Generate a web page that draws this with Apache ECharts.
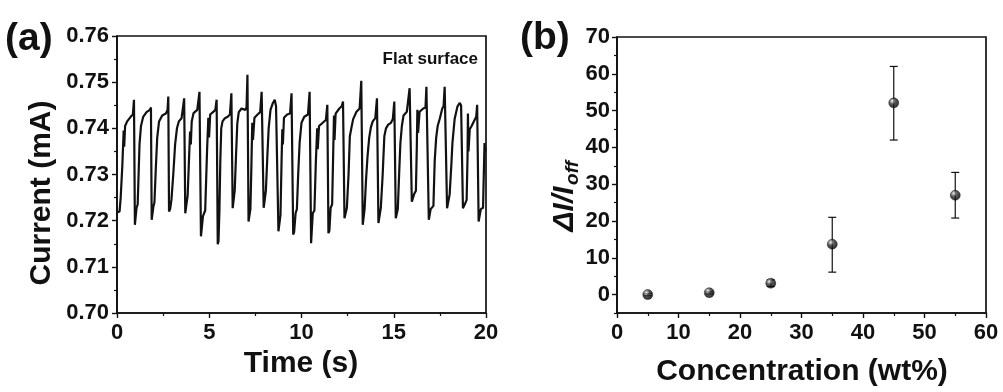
<!DOCTYPE html>
<html>
<head>
<meta charset="utf-8">
<script src="https://cdn.jsdelivr.net/npm/echarts@6/dist/echarts.min.js"></script>
<style>
html,body{margin:0;padding:0;background:#fff;}
#chart{width:1003px;height:392px;}
</style>
</head>
<body>
<div id="chart"></div>
<script>
// ---- Panel (a): current vs time, [time (s), current (mA)] ----
const currentTrace = [
[0.00,0.7218],[0.14,0.7220],[0.20,0.7250],[0.29,0.7320],[0.36,0.7395],[0.39,0.7360],[0.44,0.7405],[0.55,0.7415],[0.74,0.7425],[0.86,0.7430],[0.92,0.7462],[0.97,0.7191],
[1.02,0.7195],[1.06,0.7228],[1.12,0.7235],[1.17,0.7300],[1.22,0.7365],[1.30,0.7405],[1.42,0.7425],[1.60,0.7435],[1.78,0.7440],[1.84,0.7445],[1.88,0.7202],
[1.93,0.7205],[1.97,0.7230],[2.03,0.7240],[2.10,0.7310],[2.18,0.7380],[2.28,0.7415],[2.45,0.7428],[2.65,0.7432],[2.74,0.7440],[2.78,0.7469],[2.82,0.7220],
[2.88,0.7225],[2.95,0.7245],[3.05,0.7300],[3.15,0.7365],[3.25,0.7400],[3.35,0.7415],[3.50,0.7422],[3.58,0.7425],[3.64,0.7465],[3.70,0.7216],
[3.74,0.7218],[3.78,0.7240],[3.83,0.7255],[3.90,0.7330],[3.96,0.7393],[4.00,0.7365],[4.05,0.7415],[4.15,0.7433],[4.35,0.7440],[4.47,0.7479],[4.55,0.7166],
[4.60,0.7168],[4.66,0.7210],[4.78,0.7222],[4.88,0.7350],[4.95,0.7423],[4.99,0.7380],[5.05,0.7430],[5.20,0.7435],[5.33,0.7440],[5.40,0.7462],[5.46,0.7149],
[5.50,0.7155],[5.55,0.7220],[5.60,0.7330],[5.65,0.7400],[5.72,0.7415],[5.85,0.7422],[6.00,0.7425],[6.12,0.7430],[6.20,0.7476],[6.27,0.7227],
[6.32,0.7230],[6.38,0.7265],[6.45,0.7340],[6.52,0.7410],[6.60,0.7435],[6.75,0.7443],[6.95,0.7440],[7.02,0.7445],[7.07,0.7516],[7.13,0.7198],
[7.18,0.7202],[7.23,0.7225],[7.28,0.7310],[7.33,0.7412],[7.37,0.7375],[7.45,0.7423],[7.62,0.7430],[7.76,0.7435],[7.84,0.7479],[7.95,0.7228],
[8.00,0.7232],[8.07,0.7265],[8.15,0.7340],[8.22,0.7400],[8.32,0.7440],[8.45,0.7455],[8.55,0.7462],[8.62,0.7448],[8.68,0.7450],[8.75,0.7177],
[8.80,0.7180],[8.86,0.7212],[8.92,0.7330],[8.96,0.7398],[8.99,0.7365],[9.05,0.7423],[9.22,0.7430],[9.38,0.7432],[9.46,0.7476],[9.55,0.7170],
[9.60,0.7175],[9.68,0.7216],[9.75,0.7225],[9.82,0.7300],[9.90,0.7370],[10.00,0.7412],[10.15,0.7425],[10.35,0.7430],[10.44,0.7479],[10.52,0.7151],
[10.56,0.7155],[10.61,0.7216],[10.70,0.7222],[10.78,0.7330],[10.85,0.7400],[10.88,0.7355],[10.95,0.7405],[11.15,0.7412],[11.32,0.7418],[11.40,0.7451],[11.46,0.7173],
[11.51,0.7178],[11.58,0.7228],[11.66,0.7235],[11.72,0.7350],[11.76,0.7428],[11.79,0.7375],[11.85,0.7432],[12.05,0.7443],[12.18,0.7448],[12.25,0.7458],[12.33,0.7205],
[12.38,0.7208],[12.46,0.7228],[12.55,0.7300],[12.62,0.7383],[12.70,0.7400],[12.80,0.7420],[12.98,0.7436],[13.15,0.7443],[13.24,0.7503],[13.32,0.7191],
[13.37,0.7195],[13.42,0.7225],[13.50,0.7290],[13.58,0.7340],[13.67,0.7380],[13.76,0.7402],[13.86,0.7415],[14.00,0.7422],[14.09,0.7465],[14.17,0.7195],
[14.22,0.7198],[14.30,0.7228],[14.40,0.7300],[14.49,0.7383],[14.58,0.7400],[14.70,0.7408],[14.85,0.7412],[14.95,0.7420],[15.03,0.7458],[15.11,0.7205],
[15.16,0.7208],[15.22,0.7225],[15.30,0.7310],[15.36,0.7368],[15.44,0.7405],[15.53,0.7428],[15.71,0.7436],[15.80,0.7440],[15.86,0.7487],[15.98,0.7241],
[16.03,0.7243],[16.10,0.7257],[16.20,0.7265],[16.25,0.7360],[16.28,0.7440],[16.32,0.7390],[16.40,0.7436],[16.60,0.7443],[16.72,0.7445],[16.77,0.7490],[16.90,0.7202],
[16.95,0.7205],[17.00,0.7225],[17.15,0.7232],[17.22,0.7330],[17.30,0.7380],[17.38,0.7405],[17.50,0.7422],[17.63,0.7443],[17.70,0.7448],[17.76,0.7490],[17.89,0.7227],
[17.94,0.7230],[18.03,0.7257],[18.12,0.7320],[18.18,0.7368],[18.30,0.7420],[18.45,0.7447],[18.58,0.7455],[18.65,0.7450],[18.75,0.7227],
[18.80,0.7230],[18.87,0.7237],[18.95,0.7245],[19.00,0.7340],[19.02,0.7432],[19.05,0.7350],[19.12,0.7398],[19.22,0.7405],[19.38,0.7418],[19.47,0.7425],[19.52,0.7451],[19.60,0.7198],
[19.65,0.7200],[19.72,0.7225],[19.84,0.7228],[19.92,0.7368],[19.97,0.7350]
];

// ---- Panel (b): response vs concentration ----
const concentration = [5, 15, 25, 35, 45, 55];
const response      = [0.0, 0.5, 3.1, 13.7, 52.1, 27.0];
const errLow        = [-0.3, 0.2, 2.2, 6.1, 42.0, 20.8];
const errHigh       = [0.3, 0.8, 4.0, 21.0, 62.0, 33.2];

// tick labels
const yTicksA = [0.70, 0.71, 0.72, 0.73, 0.74, 0.75, 0.76];
const yTicksB = [0, 10, 20, 30, 40, 50, 60, 70];
const yMinorB = [-5, 5, 15, 25, 35, 45, 55, 65];

const FONT = 'Arial, "Liberation Sans", sans-serif';
const INK = '#111';

const chart = echarts.init(document.getElementById('chart'), null, {renderer: 'canvas'});

function axisCommon() {
  return {
    axisLine: {show: true, onZero: false, lineStyle: {color: INK, width: 1.7}},
    axisTick: {show: true, inside: false, length: 5, lineStyle: {color: INK, width: 1.4}},
    minorTick: {show: true, splitNumber: 2, length: 3, lineStyle: {color: INK, width: 1.2}},
    splitLine: {show: false},
    minorSplitLine: {show: false},
    axisLabel: {color: INK, fontFamily: FONT, fontWeight: 'bold', fontSize: 22}
  };
}

const scatterColor = {
  type: 'radial', x: 0.36, y: 0.32, r: 0.7,
  colorStops: [
    {offset: 0, color: '#ffffff'},
    {offset: 0.18, color: '#9a9a9a'},
    {offset: 0.45, color: '#2a2a2a'},
    {offset: 1, color: '#000'}
  ]
};

const option = {
  backgroundColor: '#fff',
  animation: false,
  grid: [
    {left: 117, right: 517, top: 36, bottom: 79, show: true, borderColor: INK, borderWidth: 1.7, backgroundColor: 'transparent'},
    {left: 617, right: 17, top: 37, bottom: 79, show: true, borderColor: INK, borderWidth: 1.7, backgroundColor: 'transparent'}
  ],
  xAxis: [
    Object.assign(axisCommon(), {
      type: 'value', gridIndex: 0, min: 0, max: 20, interval: 5,
    }),
    Object.assign(axisCommon(), {
      type: 'value', gridIndex: 1, min: 0, max: 60, interval: 10,
    })
  ],
  yAxis: [
    Object.assign(axisCommon(), {
      type: 'value', gridIndex: 0, min: 0.70, max: 0.76, interval: 0.01,
    }),
    Object.assign(axisCommon(), {
      type: 'value', gridIndex: 1, min: -5, max: 70,
      minorTick: {show: false},
      axisTick: {show: true, inside: false, length: 5, lineStyle: {color: INK, width: 1.4}, customValues: yTicksB},
    }),
    {
      type: 'value', gridIndex: 1, min: -5, max: 70, position: 'left',
      axisLine: {show: false},
      axisLabel: {show: false},
      splitLine: {show: false},
      axisTick: {show: true, inside: false, length: 3, lineStyle: {color: INK, width: 1.2}, customValues: yMinorB}
    }
  ],
  series: [
    {
      type: 'line', xAxisIndex: 0, yAxisIndex: 0,
      data: currentTrace,
      showSymbol: false, symbol: 'none', smooth: false,
      lineStyle: {color: INK, width: 2.2},
      clip: true
    },
    {
      type: 'custom', xAxisIndex: 1, yAxisIndex: 1, z: 2,
      data: concentration.map((c, i) => [c, errLow[i], errHigh[i]]),
      renderItem: function (params, api) {
        const x = api.value(0);
        const top = api.coord([x, api.value(2)]);
        const bot = api.coord([x, api.value(1)]);
        const cap = 4;
        const st = {stroke: INK, lineWidth: 1.2};
        return {
          type: 'group',
          children: [
            {type: 'line', shape: {x1: top[0], y1: top[1], x2: bot[0], y2: bot[1]}, style: st},
            {type: 'line', shape: {x1: top[0] - cap, y1: top[1], x2: top[0] + cap, y2: top[1]}, style: st},
            {type: 'line', shape: {x1: bot[0] - cap, y1: bot[1], x2: bot[0] + cap, y2: bot[1]}, style: st}
          ]
        };
      }
    },
    {
      type: 'scatter', xAxisIndex: 1, yAxisIndex: 1, z: 3,
      data: concentration.map((c, i) => [c, response[i]]),
      symbol: 'circle', symbolSize: 10,
      itemStyle: {color: scatterColor, borderColor: '#000', borderWidth: 0.5}
    }
  ],
  graphic: [
    {type: 'text', x: 5, y: 39, style: {text: '(a)', font: 'bold 39px ' + FONT, fill: INK, align: 'left', verticalAlign: 'middle'}},
    {type: 'text', x: 520, y: 38, style: {text: '(b)', font: 'bold 39px ' + FONT, fill: INK, align: 'left', verticalAlign: 'middle'}},
    {type: 'text', x: 478, y: 59, style: {text: 'Flat surface', font: 'bold 17px ' + FONT, fill: INK, align: 'right', verticalAlign: 'middle'}},
    {type: 'text', x: 301, y: 364, style: {text: 'Time (s)', font: 'bold 30px ' + FONT, fill: INK, align: 'center', verticalAlign: 'middle'}},
    {type: 'text', x: 802, y: 372, style: {text: 'Concentration (wt%)', font: 'bold 30px ' + FONT, fill: INK, align: 'center', verticalAlign: 'middle'}},
    {type: 'text', x: 42, y: 193, rotation: Math.PI / 2, style: {text: 'Current (mA)', font: 'bold 30px ' + FONT, fill: INK, align: 'center', verticalAlign: 'middle'}},
    {type: 'text', x: 565, y: 209, rotation: Math.PI / 2, style: {text: 'ΔI/I', font: 'italic bold 30px ' + FONT, fill: INK, align: 'center', verticalAlign: 'middle'}},
    {type: 'text', x: 573, y: 173, rotation: Math.PI / 2, style: {text: 'off', font: 'italic bold 19px ' + FONT, fill: INK, align: 'center', verticalAlign: 'middle'}}
  ]
};

option.yAxis[0].axisLabel.formatter = function (v) { return v.toFixed(2); };
option.yAxis[0].axisLabel.margin = 8;
option.yAxis[1].axisLabel.margin = 7;
option.yAxis[1].axisLabel.customValues = yTicksB;
option.xAxis[0].axisLabel.margin = 9;
option.xAxis[1].axisLabel.margin = 9;

chart.setOption(option);
</script>
</body>
</html>
